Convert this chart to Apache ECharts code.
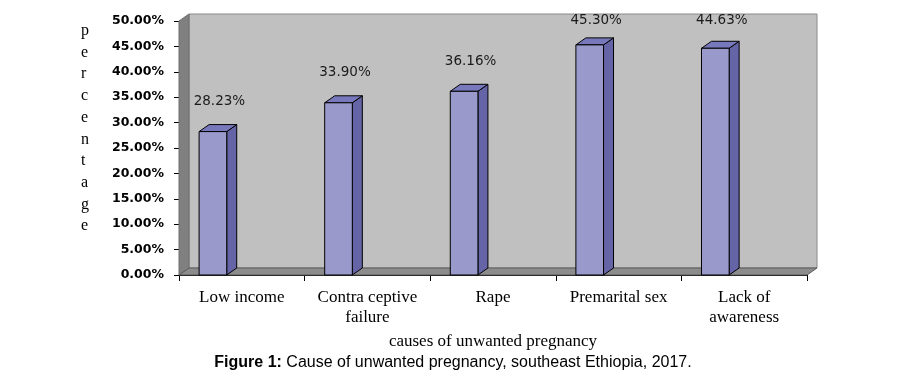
<!DOCTYPE html>
<html>
<head>
<meta charset="utf-8">
<script src="https://cdn.jsdelivr.net/npm/echarts@6/dist/echarts.min.js"></script>
<style>
  html, body { margin: 0; padding: 0; background: #fff; }
  #chart { width: 921px; height: 385px; }
</style>
</head>
<body>
<div id="chart"></div>
<script>
// data
const categories = ['Low income', 'Contra ceptive\nfailure', 'Rape', 'Premarital sex', 'Lack of\nawareness'];
const values = [28.23, 33.90, 36.16, 45.30, 44.63];
const yMin = 0;
const yMax = 50;
const yStep = 5;
const yName = 'percentage';
const xName = 'causes of unwanted pregnancy';

const DX = 10, DY = 7; // 3d depth

var chart = echarts.init(document.getElementById('chart'));

// back wall, side wall, floor
function renderWalls(params, api) {
  if (params.dataIndex !== 0) return;
  var cs = params.coordSys;
  var x = cs.x, y = cs.y, w = cs.width, h = cs.height;
  return {
    type: 'group',
    children: [
      {
        type: 'polygon',
        shape: { points: [[x + DX, y - DY], [x + w + DX, y - DY], [x + w + DX, y + h - DY], [x + DX, y + h - DY]] },
        style: { fill: '#c0c0c0', stroke: '#8a8a8a', lineWidth: 1 }
      },
      {
        type: 'polygon',
        shape: { points: [[x, y], [x + DX, y - DY], [x + DX, y + h - DY], [x, y + h]] },
        style: { fill: '#808080', stroke: '#6e6e6e', lineWidth: 1 }
      },
      {
        type: 'polygon',
        shape: { points: [[x, y + h], [x + DX, y + h - DY], [x + w + DX, y + h - DY], [x + w, y + h]] },
        style: { fill: '#8c8c8c', stroke: '#5a5a5a', lineWidth: 1 }
      }
    ]
  };
}

function renderBar(params, api) {
  var top = api.coord([api.value(0), api.value(1)]);
  var base = api.coord([api.value(0), 0]);
  var bw = api.size([1, 0])[0];
  var x0 = top[0] - 0.34 * bw;
  var w = 0.22 * bw;
  var t = top[1], b = base[1];
  var cs = params.coordSys;
  var edge = { stroke: '#000', lineWidth: 1 };
  return {
    type: 'group',
    children: [
      {
        type: 'polygon',
        shape: { points: [[x0 + w, t], [x0 + w + DX, t - DY], [x0 + w + DX, b - DY], [x0 + w, b]] },
        style: Object.assign({ fill: '#6464a6' }, edge)
      },
      {
        type: 'polygon',
        shape: { points: [[x0, t], [x0 + DX, t - DY], [x0 + w + DX, t - DY], [x0 + w, t]] },
        style: Object.assign({ fill: '#7878bc' }, edge)
      },
      {
        type: 'rect',
        shape: { x: x0, y: t, width: w, height: b - t },
        style: Object.assign({ fill: '#9999cc' }, edge)
      },
      {
        type: 'text',
        style: {
          x: x0 + w / 2 + 6.5,
          y: Math.max(t - 30, cs.y - 1),
          text: api.value(1).toFixed(2) + '%',
          align: 'center',
          verticalAlign: 'middle',
          fill: '#1a1a1a',
          font: '13.5px "DejaVu Sans"'
        }
      }
    ]
  };
}

var option = {
  animation: false,
  grid: { left: 179, right: 114, top: 21, bottom: 110 },
  xAxis: {
    type: 'category',
    data: categories,
    name: xName,
    nameLocation: 'middle',
    nameGap: 52,
    nameTextStyle: { fontFamily: 'Liberation Serif', fontSize: 17, color: '#000' },
    axisLine: { lineStyle: { color: '#000', width: 1 } },
    axisTick: { show: true, length: 6, alignWithLabel: false, lineStyle: { color: '#000' } },
    axisLabel: {
      interval: 0,
      margin: 13,
      fontFamily: 'Liberation Serif',
      fontSize: 17,
      lineHeight: 20,
      color: '#000'
    }
  },
  yAxis: {
    type: 'value',
    min: yMin,
    max: yMax,
    interval: yStep,
    axisLine: { show: true, lineStyle: { color: '#000', width: 1 } },
    axisTick: { show: true, length: 5, lineStyle: { color: '#000' } },
    splitLine: { show: false },
    axisLabel: {
      margin: 15,
      fontFamily: 'DejaVu Sans',
      fontWeight: 'bold',
      fontSize: 12.5,
      color: '#000',
      formatter: function (v) { return v.toFixed(2) + '%'; }
    }
  },
  graphic: [
    {
      type: 'text',
      left: 81,
      top: 20,
      style: {
        text: yName.split('').join('\n'),
        font: '16px "Liberation Serif"',
        lineHeight: 21.7,
        align: 'center',
        fill: '#000'
      }
    },
    {
      type: 'text',
      x: 453,
      y: 363,
      style: {
        text: '{b|Figure 1:} Cause of unwanted pregnancy, southeast Ethiopia, 2017.',
        align: 'center',
        verticalAlign: 'middle',
        font: '16px "Liberation Sans"',
        fill: '#000',
        rich: {
          b: { font: 'bold 16px "Liberation Sans"', fill: '#000' }
        }
      }
    }
  ],
  series: [
    {
      type: 'custom',
      renderItem: renderWalls,
      data: [[0, 0]],
      clip: false,
      z: 1,
      silent: true
    },
    {
      type: 'custom',
      renderItem: renderBar,
      data: values.map(function (v, i) { return [i, v]; }),
      clip: false,
      z: 3
    }
  ]
};

chart.setOption(option);
window.addEventListener('resize', function () { chart.resize(); });
</script>
</body>
</html>
